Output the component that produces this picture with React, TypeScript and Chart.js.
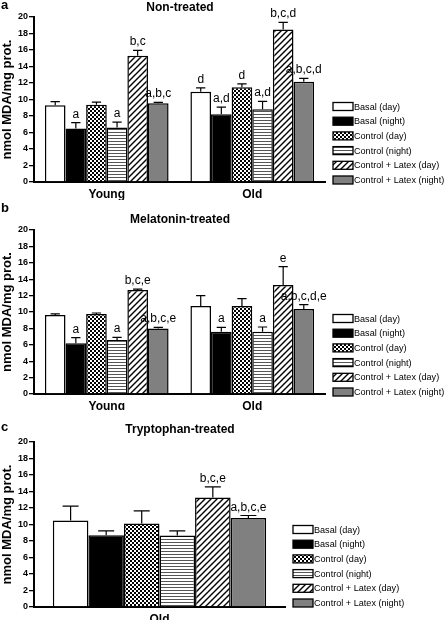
import React, { useEffect, useRef } from "react";
import { Chart, registerables } from "chart.js";

Chart.register(...registerables);

const FONT = '"Liberation Sans", Arial, Helvetica, sans-serif';

// ---------- data ----------
const seriesNames = [
  "Basal (day)",
  "Basal (night)",
  "Control (day)",
  "Control (night)",
  "Control + Latex (day)",
  "Control + Latex (night)",
];
const groupsAB = ["Young", "Old"];
const groupsC = ["Old"];
const yTicks = [0, 2, 4, 6, 8, 10, 12, 14, 16, 18, 20];

// Panel a: Non-treated (per series, in series order)
const youngA = [9.3, 6.5, 9.35, 6.6, 15.3, 9.55];
const oldA = [10.95, 8.2, 11.5, 8.83, 18.5, 12.15];
const youngErrA = [0.45, 0.7, 0.33, 0.65, 0.65, 0.1];
const oldErrA = [0.45, 0.87, 0.4, 0.95, 0.85, 0.4];
const youngSigA = ["", "a", "", "a", "b,c", "a,b,c"];
const oldSigA = ["d", "a,d", "d", "a,d", "b,c,d", "a,b,c,d"];

// Panel b: Melatonin-treated
const youngB = [9.63, 6.18, 9.76, 6.59, 12.68, 8.0];
const oldB = [10.73, 7.6, 10.73, 7.6, 13.3, 10.37];
const youngErrB = [0.13, 0.69, 0.12, 0.32, 0.1, 0.13];
const oldErrB = [1.27, 0.53, 0.9, 0.57, 2.23, 0.53];
const youngSigB = ["", "a", "", "a", "b,c,e", "a,b,c,e"];
const oldSigB = ["", "a", "", "a", "e", "a,b,c,d,e"];

// Panel c: Tryptophan-treated (Old only)
const oldC = [10.49, 8.7, 10.12, 8.66, 13.28, 10.8];
const oldErrC = [1.74, 0.53, 1.54, 0.57, 1.29, 0.29];
const oldSigC = ["", "", "", "", "b,c,e", "a,b,c,e"];

// ---------- patterns ----------
function makeTile(w: number, h: number, draw: (c: CanvasRenderingContext2D) => void) {
  const cv = document.createElement("canvas");
  cv.width = w;
  cv.height = h;
  const c = cv.getContext("2d")!;
  c.fillStyle = "#ffffff";
  c.fillRect(0, 0, w, h);
  draw(c);
  const p = document.createElement("canvas").getContext("2d")!.createPattern(cv, "repeat");
  return p as CanvasPattern;
}

function makeFills(): (string | CanvasPattern)[] {
  const checker = makeTile(4, 4, (c) => {
    c.fillStyle = "#000";
    c.fillRect(0, 0, 2, 2);
    c.fillRect(2, 2, 2, 2);
  });
  const hstripe = makeTile(1, 3, (c) => {
    c.fillStyle = "#555";
    c.fillRect(0, 0, 1, 1);
  });
  const diag = makeTile(6, 6, (c) => {
    c.strokeStyle = "#000";
    c.lineWidth = 1.4;
    c.beginPath();
    c.moveTo(-1, 7);
    c.lineTo(7, -1);
    c.moveTo(-1, 1);
    c.lineTo(1, -1);
    c.moveTo(5, 7);
    c.lineTo(7, 5);
    c.stroke();
  });
  return ["#ffffff", "#000000", checker, hstripe, diag, "#808080"];
}

type PanelCfg = {
  letter: string;
  title: string;
  top: number;
  height: number;
  canvasH: number;
  padTop: number;
  xHeight: number;
  padRight: number;
  labels: string[];
  values: number[][]; // [series][group]
  errs: number[][];
  sigs: string[][];
  titleBase: number;
  letterBase: number;
  legendLastOffset: number;
};

function zip(...cols: any[][]) {
  return cols[0].map((_: any, i: number) => cols.map((c) => c[i]));
}

const panels: PanelCfg[] = [
  {
    letter: "a",
    title: "Non-treated",
    top: 0,
    height: 200,
    canvasH: 204,
    padTop: 17,
    xHeight: 18,
    padRight: 121,
    labels: groupsAB,
    values: zip(youngA, oldA),
    errs: zip(youngErrA, oldErrA),
    sigs: zip(youngSigA, oldSigA),
    titleBase: 11,
    letterBase: 9,
    legendLastOffset: 2,
  },
  {
    letter: "b",
    title: "Melatonin-treated",
    top: 200,
    height: 210,
    canvasH: 213,
    padTop: 30,
    xHeight: 16,
    padRight: 121,
    labels: groupsAB,
    values: zip(youngB, oldB),
    errs: zip(youngErrB, oldErrB),
    sigs: zip(youngSigB, oldSigB),
    titleBase: 23,
    letterBase: 12,
    legendLastOffset: 2,
  },
  {
    letter: "c",
    title: "Tryptophan-treated",
    top: 410,
    height: 210,
    canvasH: 210,
    padTop: 32,
    xHeight: 13,
    padRight: 161,
    labels: groupsC,
    values: zip(oldC),
    errs: zip(oldErrC),
    sigs: zip(oldSigC),
    titleBase: 23,
    letterBase: 21,
    legendLastOffset: 4,
  },
];

function Panel({ cfg }: { cfg: PanelCfg }) {
  const ref = useRef<HTMLCanvasElement>(null);
  useEffect(() => {
    const fills = makeFills();
    const plugin = {
      id: "annot" + cfg.letter,
      afterDatasetsDraw(chart: any) {
        const ctx = chart.ctx as CanvasRenderingContext2D;
        const ys = chart.scales.y;
        chart.data.datasets.forEach((ds: any, i: number) => {
          const meta = chart.getDatasetMeta(i);
          meta.data.forEach((el: any, j: number) => {
            const v = ds.data[j];
            const e = cfg.errs[i][j];
            const x = el.x;
            const yb = el.y;
            const yt = ys.getPixelForValue(v + e);
            const w = el.width * 0.45;
            ctx.save();
            ctx.strokeStyle = "#000";
            ctx.lineWidth = 1.2;
            ctx.beginPath();
            ctx.moveTo(x, yb);
            ctx.lineTo(x, yt);
            ctx.moveTo(x - w / 2, yt);
            ctx.lineTo(x + w / 2, yt);
            ctx.stroke();
            const s = cfg.sigs[i][j];
            if (s) {
              ctx.fillStyle = "#000";
              ctx.font = `12px ${FONT}`;
              ctx.textAlign = "center";
              ctx.textBaseline = "alphabetic";
              ctx.fillText(s, x, yt - 5);
            }
            ctx.restore();
          });
        });
      },
      afterDraw(chart: any) {
        const ctx = chart.ctx as CanvasRenderingContext2D;
        const area = chart.chartArea;
        ctx.save();
        ctx.fillStyle = "#000";
        // panel letter
        ctx.font = `bold 13px ${FONT}`;
        ctx.textAlign = "left";
        ctx.textBaseline = "alphabetic";
        ctx.fillText(cfg.letter, 1, cfg.letterBase);
        // title
        ctx.font = `bold 12px ${FONT}`;
        ctx.textAlign = "center";
        ctx.fillText(cfg.title, 180, cfg.titleBase);
        // legend
        const rowH = 14.7;
        const bx = area.right + 8;
        const bw = 20;
        const bh = 8;
        ctx.font = `9.1px ${FONT}`;
        ctx.textAlign = "left";
        ctx.textBaseline = "middle";
        seriesNames.forEach((name, i) => {
          const cy = area.bottom - cfg.legendLastOffset - (seriesNames.length - 1 - i) * rowH;
          ctx.fillStyle = fills[i] as any;
          ctx.fillRect(bx, cy - bh / 2, bw, bh);
          ctx.strokeStyle = "#000";
          ctx.lineWidth = 1.3;
          ctx.strokeRect(bx, cy - bh / 2, bw, bh);
          ctx.fillStyle = "#000";
          ctx.fillText(name, bx + bw + 1, cy + 0.5);
        });
        ctx.restore();
      },
    };

    const chart = new Chart(ref.current!, {
      type: "bar",
      data: {
        labels: cfg.labels,
        datasets: seriesNames.map((name, i) => ({
          label: name,
          data: cfg.values[i],
          backgroundColor: fills[i] as any,
          borderColor: "#000",
          borderWidth: 1.5,
          borderSkipped: "start",
          categoryPercentage: 0.85,
          barPercentage: 1.0,
        })),
      },
      options: {
        animation: false,
        responsive: false,
        devicePixelRatio: 1,
        events: [],
        layout: {
          padding: { top: cfg.padTop, right: cfg.padRight, left: 0, bottom: cfg.canvasH - cfg.height },
        },
        plugins: {
          legend: { display: false },
          title: { display: false },
          tooltip: { enabled: false },
        },
        scales: {
          x: {
            grid: { display: false, drawTicks: false },
            border: { display: true, color: "#000", width: 2 },
            ticks: {
              color: "#000",
              padding: 5,
              font: { family: FONT, size: 12, weight: "bold" },
            },
            afterFit: (s: any) => {
              s.height = cfg.xHeight;
            },
          },
          y: {
            min: 0,
            max: 20,
            afterBuildTicks: (s: any) => {
              s.ticks = yTicks.map((v) => ({ value: v }));
            },
            grid: {
              display: true,
              drawOnChartArea: false,
              drawTicks: true,
              tickLength: 5,
              color: "#000",
              lineWidth: 1.3,
            },
            border: { display: true, color: "#000", width: 2 },
            ticks: {
              color: "#000",
              padding: 1,
              font: { family: FONT, size: 9, weight: "bold" },
            },
            title: {
              display: true,
              text: "nmol MDA/mg prot.",
              color: "#000",
              padding: 0,
              font: { family: FONT, size: 13, weight: "bold" },
            },
            afterFit: (s: any) => {
              s.width = 34;
            },
          },
        },
      },
      plugins: [plugin],
    } as any);
    return () => chart.destroy();
  }, [cfg]);

  return (
    <div style={{ position: "absolute", left: 0, top: cfg.top, width: 446, height: cfg.canvasH }}>
      <canvas ref={ref} width={446} height={cfg.canvasH} style={{ width: 446, height: cfg.canvasH, display: "block" }} />
    </div>
  );
}

export default function App() {
  return (
    <div style={{ position: "absolute", left: 0, top: 0, width: 446, height: 620, background: "#fff" }}>
      {panels.map((p) => (
        <Panel key={p.letter} cfg={p} />
      ))}
    </div>
  );
}
